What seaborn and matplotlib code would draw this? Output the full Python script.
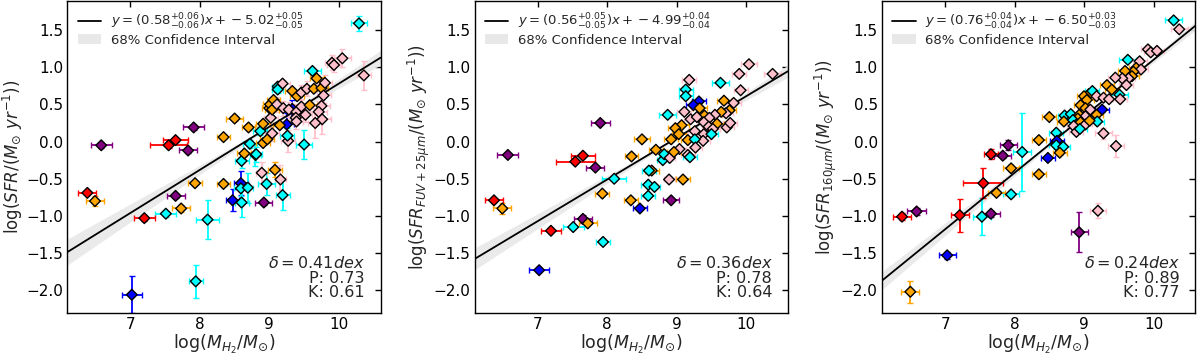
import numpy as np
import pandas as pd
import matplotlib
matplotlib.use("Agg")
import matplotlib.pyplot as plt
import seaborn as sns
from matplotlib.patches import Patch
from matplotlib.lines import Line2D

# ---------------- data ----------------
# category codes: r=red, o=orange, p=purple, b=blue, c=cyan, k=pink
palette = {"r": "red", "o": "orange", "p": "purple", "b": "blue", "c": "cyan", "k": "pink"}

# Panel 1: SFR
x1 = [7.02, 7.94, 6.38, 6.49, 6.58, 7.20, 7.51, 7.73, 7.65, 7.55, 7.65, 7.83, 7.91, 7.93, 8.11,
      8.34, 8.34, 8.50, 8.47, 8.59, 8.59, 8.60, 8.69, 8.60, 8.64, 8.72, 8.70, 8.80, 8.81, 8.87,
      8.91, 8.89, 8.92, 8.96, 9.08, 9.16, 9.19, 9.50, 8.91, 8.97, 9.04, 9.02, 9.27, 9.26, 9.25,
      9.15, 9.00, 9.01, 9.06, 9.04, 9.11, 9.20, 9.33, 9.28, 9.39, 9.46, 9.58, 9.75, 9.71, 9.76,
      9.66, 9.52, 9.38, 9.39, 9.12, 9.19, 9.33, 9.40, 9.46, 9.54, 9.64, 9.75, 9.78, 9.68, 9.62,
      9.80, 9.90, 9.93, 10.05, 10.36, 10.29, 9.12]
y1 = [-2.06, -1.88, -0.69, -0.80, -0.05, -1.03, -0.97, -0.90, -0.73, -0.05, 0.02, -0.12, 0.19, -0.56, -1.05,
      0.06, -0.57, 0.31, -0.79, -0.56, -0.63, -0.82, -0.62, -0.26, -0.16, -0.03, 0.19, -0.18, -0.17, 0.14,
      0.24, -0.42, -0.82, -0.57, -0.38, -0.51, -0.72, -0.04, -0.02, 0.03, 0.11, 0.32, 0.01, 0.08, 0.23,
      0.22, 0.45, 0.50, 0.56, 0.43, 0.50, 0.45, 0.44, 0.43, 0.40, 0.47, 0.49, 0.48, 0.40, 0.30,
      0.25, 0.36, 0.32, 0.27, 0.74, 0.78, 0.68, 0.61, 0.66, 0.71, 0.71, 0.72, 0.62, 0.85, 0.95,
      0.79, 1.06, 1.03, 1.12, 0.89, 1.59, 0.70]
c1 = ["b", "c", "r", "o", "p", "r", "c", "o", "p", "r", "r", "p", "p", "o", "c",
      "o", "o", "o", "b", "b", "c", "c", "c", "c", "o", "c", "o", "c", "c", "c",
      "o", "k", "p", "c", "o", "k", "c", "c", "o", "o", "k", "k", "k", "c", "b",
      "o", "o", "o", "o", "o", "k", "k", "b", "k", "k", "k", "o", "k", "k", "k",
      "k", "k", "k", "k", "c", "k", "o", "o", "k", "k", "o", "o", "k", "o", "c",
      "k", "k", "k", "k", "k", "c", "c"]
xe1 = [0.14, 0.10, 0.13, 0.13, 0.15, 0.15, 0.15, 0.13, 0.13, 0.27, 0.18, 0.13, 0.15, 0.10, 0.17,
       0.10, 0.10, 0.12, 0.10, 0.10, 0.10, 0.10, 0.08, 0.10, 0.10, 0.10, 0.10, 0.08, 0.08, 0.10,
       0.10, 0.08, 0.12, 0.12, 0.10, 0.08, 0.10, 0.12, 0.10, 0.10, 0.10, 0.10, 0.10, 0.10, 0.10,
       0.10, 0.10, 0.10, 0.10, 0.10, 0.10, 0.10, 0.10, 0.10, 0.10, 0.10, 0.10, 0.12, 0.12, 0.12,
       0.10, 0.10, 0.10, 0.10, 0.08, 0.10, 0.10, 0.10, 0.10, 0.10, 0.10, 0.10, 0.10, 0.10, 0.12,
       0.10, 0.10, 0.10, 0.12, 0.10, 0.12, 0.08]
ye1 = [0.25, 0.22, 0.03, 0.07, 0.03, 0.04, 0.04, 0.05, 0.03, 0.03, 0.03, 0.03, 0.03, 0.03, 0.26,
       0.03, 0.03, 0.03, 0.15, 0.16, 0.10, 0.20, 0.20, 0.10, 0.03, 0.05, 0.03, 0.15, 0.10, 0.05,
       0.03, 0.15, 0.03, 0.15, 0.10, 0.20, 0.20, 0.20, 0.03, 0.03, 0.10, 0.10, 0.15, 0.10, 0.15,
       0.03, 0.03, 0.03, 0.03, 0.03, 0.10, 0.10, 0.12, 0.10, 0.10, 0.10, 0.03, 0.15, 0.15, 0.20,
       0.20, 0.10, 0.10, 0.10, 0.05, 0.05, 0.03, 0.03, 0.10, 0.10, 0.03, 0.03, 0.10, 0.03, 0.03,
       0.10, 0.10, 0.10, 0.12, 0.20, 0.10, 0.05]

# Panel 2: SFR FUV+25um
x2 = [7.02, 6.37, 6.49, 6.57, 7.19, 7.51, 7.65, 7.72, 7.94, 7.54, 7.65, 7.83, 7.90, 7.93, 8.10,
      8.34, 8.35, 8.50, 8.47, 8.92, 8.59, 8.59, 8.68, 8.64, 8.60, 8.89, 9.09, 8.70, 8.80, 8.82,
      8.90, 10.04, 9.90, 10.38, 9.18, 9.63, 9.13, 9.13, 9.92, 9.32, 9.24, 9.33, 9.68, 9.82, 9.76,
      9.71, 9.64, 9.55, 9.40, 9.47, 8.87, 9.11, 9.20, 9.29, 9.39, 9.58, 9.72, 9.77, 9.46, 9.52,
      9.07, 8.98, 9.03, 8.92, 9.26, 9.39, 9.16, 9.50, 9.38, 9.26, 9.27, 9.04, 8.96, 9.16, 9.19]
y2 = [-1.73, -0.79, -0.90, -0.18, -1.20, -1.15, -1.04, -1.10, -1.35, -0.27, -0.19, -0.35, 0.25, -0.70, -0.50,
      -0.79, -0.20, 0.03, -0.90, -0.79, -0.73, -0.58, -0.61, -0.39, -0.39, -0.51, -0.51, -0.11, -0.25, -0.17,
      -0.22, 1.04, 0.91, 0.91, 0.83, 0.79, 0.70, 0.61, 0.69, 0.54, 0.49, 0.45, 0.55, 0.52, 0.42,
      0.38, 0.40, 0.36, 0.35, 0.32, 0.36, 0.40, 0.30, 0.33, 0.26, 0.24, 0.19, 0.25, 0.20, 0.17,
      0.22, 0.18, 0.10, 0.03, 0.14, 0.10, 0.02, 0.10, 0.01, 0.03, -0.08, -0.10, -0.14, -0.18, -0.21]
c2 = ["b", "r", "o", "p", "r", "c", "p", "o", "c", "r", "r", "p", "p", "o", "c",
      "o", "o", "o", "b", "p", "c", "c", "c", "o", "c", "k", "o", "o", "c", "c",
      "k", "k", "k", "k", "k", "c", "c", "c", "k", "b", "b", "o", "o", "k", "o",
      "k", "o", "k", "o", "k", "c", "k", "k", "k", "k", "o", "k", "k", "k", "k",
      "o", "o", "o", "o", "k", "k", "o", "c", "k", "c", "k", "k", "o", "k", "c"]
xe2 = [0.14, 0.13, 0.13, 0.15, 0.15, 0.15, 0.13, 0.13, 0.10, 0.28, 0.17, 0.13, 0.14, 0.10, 0.17,
       0.10, 0.10, 0.12, 0.10, 0.12, 0.10, 0.10, 0.08, 0.10, 0.10, 0.08, 0.10, 0.10, 0.08, 0.08,
       0.08, 0.12, 0.10, 0.12, 0.10, 0.12, 0.10, 0.10, 0.10, 0.10, 0.10, 0.10, 0.10, 0.10, 0.10,
       0.10, 0.10, 0.10, 0.10, 0.10, 0.12, 0.10, 0.10, 0.10, 0.10, 0.10, 0.10, 0.10, 0.10, 0.10,
       0.10, 0.10, 0.10, 0.10, 0.10, 0.10, 0.10, 0.10, 0.10, 0.10, 0.10, 0.10, 0.10, 0.10, 0.10]
ye2 = [0.00, 0.00, 0.08, 0.00, 0.00, 0.00, 0.05, 0.00, 0.00, 0.00, 0.00, 0.00, 0.00, 0.00, 0.00,
       0.00, 0.00, 0.00, 0.00, 0.00, 0.00, 0.00, 0.00, 0.00, 0.00, 0.00, 0.00, 0.00, 0.00, 0.00,
       0.00, 0.00, 0.00, 0.00, 0.00, 0.00, 0.00, 0.00, 0.00, 0.00, 0.00, 0.00, 0.00, 0.00, 0.00,
       0.00, 0.00, 0.00, 0.00, 0.00, 0.00, 0.00, 0.00, 0.00, 0.00, 0.00, 0.00, 0.00, 0.00, 0.00,
       0.00, 0.00, 0.00, 0.00, 0.00, 0.00, 0.00, 0.00, 0.00, 0.00, 0.00, 0.00, 0.00, 0.00, 0.00]

# Panel 3: SFR 160um
x3 = [6.38, 6.59, 6.50, 7.03, 7.21, 7.53, 7.66, 7.74, 7.55, 7.95, 7.95, 7.66, 7.83, 7.91, 8.11,
      8.35, 8.35, 8.50, 8.48, 8.93, 9.20, 9.46, 9.28, 8.60, 8.61, 8.60, 8.70, 8.65, 8.72, 8.71,
      8.81, 10.29, 10.37, 9.92, 9.96, 10.05, 9.63, 9.80, 9.75, 9.82, 9.71, 9.59, 9.69, 9.64, 9.55,
      9.45, 9.61, 9.33, 9.40, 9.51, 9.52, 9.07, 9.00, 9.12, 9.18, 9.04, 9.28, 9.36, 8.95, 9.02,
      9.26, 9.09, 9.18, 9.19, 8.93, 9.02, 8.91, 8.84, 8.89, 8.95, 9.02, 8.85, 8.89, 9.08, 8.94]
y3 = [-1.01, -0.94, -2.02, -1.53, -0.99, -1.01, -0.97, -0.69, -0.56, -0.71, -0.36, -0.17, -0.19, -0.05, -0.14,
      -0.44, 0.02, 0.33, -0.22, -1.22, -0.93, -0.06, 0.11, 0.12, 0.01, -0.05, -0.07, -0.15, 0.35, 0.27,
      0.37, 1.63, 1.51, 1.24, 1.20, 1.22, 1.10, 1.08, 0.99, 0.97, 0.94, 0.95, 0.88, 0.85, 0.85,
      0.86, 0.76, 0.76, 0.70, 0.63, 0.57, 0.64, 0.61, 0.68, 0.61, 0.56, 0.59, 0.57, 0.49, 0.45,
      0.43, 0.43, 0.36, 0.27, 0.36, 0.34, 0.31, 0.29, 0.23, 0.26, 0.23, 0.21, 0.13, 0.28, 0.17]
c3 = ["r", "p", "o", "b", "r", "c", "p", "o", "r", "c", "o", "r", "p", "p", "c",
      "o", "o", "o", "b", "p", "k", "k", "k", "c", "b", "c", "c", "o", "c", "o",
      "c", "c", "k", "k", "k", "k", "c", "k", "o", "k", "o", "o", "o", "k", "k",
      "k", "k", "o", "o", "c", "k", "o", "o", "c", "k", "o", "k", "k", "o", "o",
      "b", "k", "o", "c", "o", "k", "o", "c", "c", "o", "k", "k", "k", "o", "c"]
xe3 = [0.13, 0.14, 0.13, 0.12, 0.13, 0.13, 0.13, 0.12, 0.29, 0.12, 0.12, 0.10, 0.12, 0.12, 0.13,
       0.10, 0.10, 0.10, 0.10, 0.12, 0.12, 0.12, 0.12, 0.10, 0.10, 0.10, 0.10, 0.10, 0.10, 0.10,
       0.10, 0.12, 0.12, 0.10, 0.10, 0.10, 0.12, 0.10, 0.10, 0.10, 0.10, 0.10, 0.10, 0.10, 0.10,
       0.10, 0.10, 0.10, 0.10, 0.12, 0.10, 0.10, 0.10, 0.10, 0.10, 0.10, 0.10, 0.10, 0.10, 0.10,
       0.10, 0.10, 0.10, 0.10, 0.10, 0.10, 0.10, 0.10, 0.10, 0.10, 0.10, 0.10, 0.10, 0.10, 0.10]
ye3 = [0.05, 0.05, 0.15, 0.05, 0.22, 0.25, 0.04, 0.03, 0.20, 0.04, 0.04, 0.07, 0.03, 0.07, 0.52,
       0.03, 0.03, 0.03, 0.03, 0.27, 0.10, 0.15, 0.07, 0.03, 0.03, 0.05, 0.03, 0.03, 0.03, 0.03,
       0.03, 0.03, 0.03, 0.03, 0.03, 0.03, 0.03, 0.05, 0.03, 0.03, 0.03, 0.03, 0.03, 0.03, 0.03,
       0.03, 0.03, 0.03, 0.03, 0.03, 0.03, 0.03, 0.03, 0.03, 0.03, 0.03, 0.03, 0.03, 0.03, 0.03,
       0.03, 0.03, 0.03, 0.03, 0.03, 0.03, 0.03, 0.03, 0.03, 0.03, 0.03, 0.03, 0.03, 0.03, 0.03]

# Fit parameters per panel
slopes = [0.58, 0.56, 0.76]
slope_err = [0.06, 0.05, 0.04]
intercepts = [-5.02, -4.99, -6.50]
intercept_err = [0.05, 0.04, 0.03]
pivots = [9.0, 9.0, 9.1]
deltas = ["0.41", "0.36", "0.24"]
pearson = ["0.73", "0.78", "0.89"]
kendall = ["0.61", "0.64", "0.77"]
ylabels = [r"log($SFR/(M_{\odot}\ yr^{-1})$)",
           r"log($SFR_{FUV+25\mu m}/(M_{\odot}\ yr^{-1})$)",
           r"log($SFR_{160\mu m}/(M_{\odot}\ yr^{-1})$)"]
xlabel = r"log($M_{H_2}/M_{\odot}$)"

# ---------------- plotting ----------------
sns.set_theme(style="white")
plt.rcParams.update({
    "font.family": ["DejaVu Sans"],
    "mathtext.fontset": "dejavusans",
    "axes.edgecolor": "black",
    "axes.linewidth": 1.0,
    "xtick.direction": "in",
    "ytick.direction": "in",
    "xtick.top": True,
    "ytick.right": True,
    "xtick.major.size": 4,
    "ytick.major.size": 4,
    "xtick.major.width": 1.0,
    "ytick.major.width": 1.0,
    "xtick.major.pad": 3.5,
    "ytick.major.pad": 3.0,
    "xtick.color": "black",
    "ytick.color": "black",
    "xtick.labelsize": 11,
    "ytick.labelsize": 11,
})

fig, axes = plt.subplots(1, 3, figsize=(12, 3.56), dpi=100)
fig.subplots_adjust(left=0.056, right=0.996, bottom=0.122, top=0.997, wspace=0.30)

panels = [(x1, y1, c1, xe1, ye1), (x2, y2, c2, xe2, ye2), (x3, y3, c3, xe3, ye3)]
xlim = (6.09, 10.6)
ylim = (-2.3, 1.89)
band_color = "#e8e8e8"

for i, (ax, (xs, ys, cs, xes, yes)) in enumerate(zip(axes, panels)):
    df = pd.DataFrame({"x": xs, "y": ys, "cat": cs, "xe": xes, "ye": yes})
    for cat, sub in df.groupby("cat"):
        ax.errorbar(sub["x"], sub["y"], xerr=sub["xe"], yerr=sub["ye"], fmt="none",
                    ecolor=palette[cat], elinewidth=1.3, capsize=2, capthick=1.0, zorder=2)
    # fit line and band
    xx = np.linspace(xlim[0], xlim[1], 200)
    yy = slopes[i] * xx + intercepts[i]
    hw = np.sqrt((slope_err[i] * (xx - pivots[i])) ** 2 + (intercept_err[i] * 0.4) ** 2)
    ax.fill_between(xx, yy - hw, yy + hw, color=band_color, alpha=0.9, lw=0, zorder=1)
    ax.plot(xx, yy, color="black", lw=1.3, zorder=2.5)
    sns.scatterplot(data=df, x="x", y="y", hue="cat", palette=palette, marker="D", s=30,
                    edgecolor="black", linewidth=1.0, legend=False, ax=ax, zorder=3)

    ax.set_xlim(*xlim)
    ax.set_ylim(*ylim)
    ax.set_xticks([7, 8, 9, 10])
    ax.set_yticks([-2.0, -1.5, -1.0, -0.5, 0.0, 0.5, 1.0, 1.5])
    ax.set_xlabel(xlabel, fontsize=12.5, labelpad=0)
    ax.set_ylabel(ylabels[i], fontsize=12, labelpad=1)

    se = f"{slope_err[i]:.2f}"
    ie = f"{intercept_err[i]:.2f}"
    lab = (r"$y=(" + f"{slopes[i]:.2f}" + r"^{+" + se + r"}_{-" + se + r"})x+" +
           f"{intercepts[i]:.2f}" + r"^{+" + ie + r"}_{-" + ie + r"}$")
    handles = [Line2D([0], [0], color="black", lw=1.3),
               Patch(facecolor=band_color, edgecolor="none")]
    ax.legend(handles, [lab, "68% Confidence Interval"], loc="upper left", frameon=False,
              fontsize=9.5, borderaxespad=0.4, labelspacing=0.15, handlelength=1.75,
              handletextpad=0.75)

    ax.text(0.95, 0.04, r"$\delta=" + deltas[i] + r"dex$" + "\nP: " + pearson[i] + "\nK: " + kendall[i],
            transform=ax.transAxes, ha="right", va="bottom", fontsize=11.5, linespacing=0.95)

fig.savefig("out.png", dpi=100)
